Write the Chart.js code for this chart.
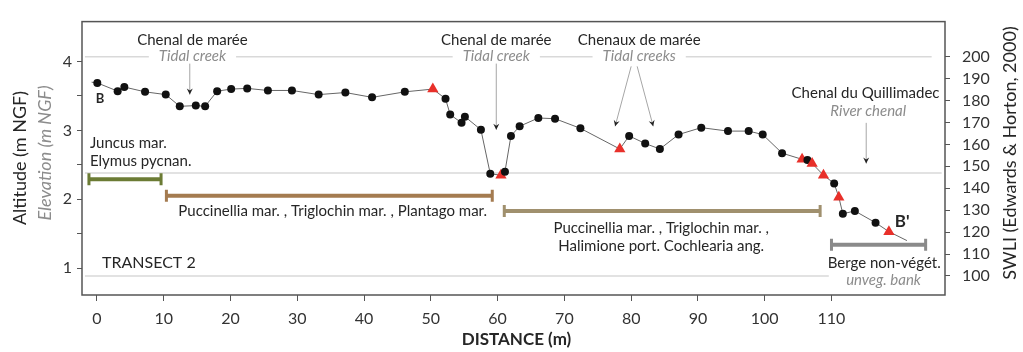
<!DOCTYPE html>
<html lang="fr">
<head>
<meta charset="UTF-8">
<title>Transect 2</title>
<script src="https://cdn.jsdelivr.net/npm/chart.js"></script>
<style>
  html, body { margin: 0; padding: 0; background: #fff; }
</style>
</head>
<body>
<canvas id="grafica" width="1023" height="352"></canvas>
<script>
    // profil du transect 2 : distance (m) et altitude (m NGF)
    const distance = [-0.8, 0.05, 3.1, 4.1, 7.2, 10.3, 12.4, 14.8, 16.2, 18.0, 20.1, 22.5, 25.6, 29.2, 33.2, 37.2, 41.2, 46.1,
        50.3, 52.2, 52.9, 54.6, 55.1, 57.5, 58.9, 60.5, 61.1, 62.0, 63.3, 66.1, 68.6, 72.4,
        78.3, 79.7, 82.1, 84.3, 87.1, 90.5, 94.5, 97.6, 99.7, 102.6,
        105.6, 106.4, 107.1, 108.8, 110.4, 111.1, 111.7, 113.5, 116.6, 118.6, 121.3];
    const altitude = [3.70, 3.69, 3.57, 3.63, 3.56, 3.52, 3.35, 3.36, 3.35, 3.57, 3.60, 3.61, 3.58, 3.58, 3.52, 3.55, 3.48, 3.56,
        3.60, 3.46, 3.23, 3.11, 3.20, 3.01, 2.37, 2.35, 2.40, 2.92, 3.06, 3.18, 3.17, 3.03,
        2.73, 2.92, 2.81, 2.73, 2.94, 3.04, 2.99, 2.99, 2.94, 2.67,
        2.58, 2.57, 2.52, 2.35, 2.23, 2.03, 1.79, 1.83, 1.66, 1.53, 1.40];
    // o = point levé, t = échantillon (triangle rouge), - = pas de marqueur
    const marqueurs = ("-ooooooooooooooooo" + "toooooo" + "toooooo" + "tooooooooo" + "to" + "tto" + "tooo" + "t-").split("");

    const ticksDistance = [0, 10, 20, 30, 40, 50, 60, 70, 80, 90, 100, 110];
    const ticksAltitude = [1, 1.5, 2, 2.5, 3, 3.5, 4];
    const ticksSwli = [100, 110, 120, 130, 140, 150, 160, 170, 180, 190, 200];

    // niveaux repères (SWLI) : lignes grises horizontales
    const niveauxSwli = [200, 147, 100];
    const niveauxDebut = [-1.8, -1.8, -1.8];
    const niveauxFin = [125, 126.5, 109.6];

    // zones de végétation le long du transect
    const vegDebut = [-1.2, 10.4, 61.0, 110.0];
    const vegFin = [9.6, 59.2, 108.3, 124.1];
    const vegAltitude = [2.29, 2.05, 1.83, 1.34];
    const vegCouleurs = ["#6b7b34", "#a47b50", "#a0906e", "#8a8a8a"];

    const texteFonce = "#262626";
    const texteGris = "#8c8c8c";
    const police = "Lato";

    // textes posés dans le graphique (coordonnées en m / m NGF)
    const etiquettes = [
        { t: "Chenal de marée", x: 14.3, y: 4.31, f: "15px", c: texteFonce },
        { t: "Tidal creek", x: 14.3, y: 4.08, f: "italic 15px", c: texteGris, fond: true },
        { t: "Chenal de marée", x: 59.8, y: 4.31, f: "15px", c: texteFonce },
        { t: "Tidal creek", x: 59.8, y: 4.08, f: "italic 15px", c: texteGris, fond: true },
        { t: "Chenaux de marée", x: 81.2, y: 4.31, f: "15px", c: texteFonce },
        { t: "Tidal creeks", x: 81.2, y: 4.08, f: "italic 15px", c: texteGris, fond: true },
        { t: "Chenal du Quillimadec", x: 115.1, y: 3.54, f: "15px", c: texteFonce },
        { t: "River chenal", x: 115.5, y: 3.28, f: "italic 15px", c: texteGris },
        { t: "B", x: 0.45, y: 3.46, f: "bold 13px", c: texteFonce },
        { t: "B'", x: 120.6, y: 1.68, f: "bold 17px", c: texteFonce },
        { t: "Juncus mar.", x: -1.05, y: 2.82, f: "15px", c: texteFonce, a: "left" },
        { t: "Elymus pycnan.", x: -1.05, y: 2.55, f: "15px", c: texteFonce, a: "left" },
        { t: "Puccinellia mar. , Triglochin mar. , Plantago mar.", x: 35.3, y: 1.83, f: "15px", c: texteFonce },
        { t: "Puccinellia mar. , Triglochin mar. ,", x: 84.5, y: 1.58, f: "15px", c: texteFonce },
        { t: "Halimione port. Cochlearia ang.", x: 84.5, y: 1.32, f: "15px", c: texteFonce },
        { t: "TRANSECT 2", x: 0.75, y: 1.07, f: "16px", c: texteFonce, a: "left" },
        { t: "Berge non-végét.", x: 117.9, y: 1.07, f: "15px", c: texteFonce },
        { t: "unveg. bank", x: 117.8, y: 0.83, f: "italic 15px", c: texteGris }
    ];
    // flèches : [x départ, y départ, x arrivée, y arrivée]
    const fleches = [
        [13.9, 3.97, 13.9, 3.52],
        [59.8, 3.97, 59.8, 3.01],
        [80.0, 3.93, 77.6, 3.06],
        [80.9, 3.93, 83.3, 3.06],
        [115.2, 3.11, 115.2, 2.52]
    ];

    Chart.defaults.font.family = police;

    const profil = distance.map((d, i) => ({ x: d, y: altitude[i] }));

    const datasets = [{
        data: profil,
        yAxisID: "y",
        borderColor: "#666",
        borderWidth: 1,
        pointStyle: marqueurs.map(m => m === "t" ? "triangle" : "circle"),
        pointRadius: marqueurs.map(m => m === "t" ? 6.5 : (m === "o" ? 4 : 0)),
        pointBackgroundColor: marqueurs.map(m => m === "t" ? "#e8302a" : "#111"),
        pointBorderWidth: 0,
        order: 0
    }];

    vegDebut.forEach((d, i) => {
        datasets.push({
            data: [{ x: d, y: vegAltitude[i] }, { x: vegFin[i], y: vegAltitude[i] }],
            yAxisID: "y",
            borderColor: vegCouleurs[i],
            borderWidth: 4,
            pointStyle: "line",
            rotation: 90,
            pointRadius: 6,
            pointBorderWidth: 3,
            pointBorderColor: vegCouleurs[i],
            order: 2
        });
    });

    niveauxSwli.forEach((n, i) => {
        datasets.push({
            data: [{ x: niveauxDebut[i], y: n }, { x: niveauxFin[i], y: n }],
            yAxisID: "y2",
            borderColor: "#d9d9d9",
            borderWidth: 1.5,
            pointRadius: 0,
            order: 3
        });
    });

    const annotations = {
        id: "annotations",
        afterDatasetsDraw(chart) {
            const ctx = chart.ctx;
            const sx = chart.scales.x, sy = chart.scales.y;
            const a = chart.chartArea;
            ctx.save();

            // flèches
            fleches.forEach(([x1, y1, x2, y2]) => {
                const p1x = sx.getPixelForValue(x1), p1y = sy.getPixelForValue(y1);
                const p2x = sx.getPixelForValue(x2), p2y = sy.getPixelForValue(y2);
                ctx.strokeStyle = "#a6a6a6";
                ctx.lineWidth = 1;
                ctx.beginPath();
                ctx.moveTo(p1x, p1y);
                ctx.lineTo(p2x, p2y);
                ctx.stroke();
                const ang = Math.atan2(p2y - p1y, p2x - p1x);
                ctx.fillStyle = "#222";
                ctx.beginPath();
                ctx.moveTo(p2x, p2y);
                ctx.lineTo(p2x - 6 * Math.cos(ang) + 3 * Math.sin(ang), p2y - 6 * Math.sin(ang) - 3 * Math.cos(ang));
                ctx.lineTo(p2x - 4 * Math.cos(ang), p2y - 4 * Math.sin(ang));
                ctx.lineTo(p2x - 6 * Math.cos(ang) - 3 * Math.sin(ang), p2y - 6 * Math.sin(ang) + 3 * Math.cos(ang));
                ctx.closePath();
                ctx.fill();
            });

            // textes
            etiquettes.forEach(e => {
                const px = sx.getPixelForValue(e.x), py = sy.getPixelForValue(e.y);
                ctx.font = e.f + " " + police;
                ctx.textAlign = e.a || "center";
                ctx.textBaseline = "middle";
                if (e.fond) {
                    const w = ctx.measureText(e.t).width;
                    const x0 = ctx.textAlign === "center" ? px - w / 2 : px;
                    ctx.fillStyle = "#fff";
                    ctx.fillRect(x0 - 10, py - 6, w + 20, 12);
                }
                ctx.fillStyle = e.c;
                ctx.fillText(e.t, px, py);
            });

            // cadre
            ctx.strokeStyle = "#555";
            ctx.lineWidth = 1.5;
            ctx.strokeRect(a.left, a.top, a.right - a.left, a.bottom - a.top);

            // titres des axes
            ctx.textAlign = "center";
            ctx.textBaseline = "middle";
            ctx.fillStyle = texteFonce;
            ctx.font = "bold 17px " + police;
            ctx.fillText("DISTANCE (m)", (a.left + a.right) / 2 + 3, a.bottom + 45);

            ctx.save();
            ctx.translate(a.left - 62, 158);
            ctx.rotate(-Math.PI / 2);
            ctx.font = "18px " + police;
            ctx.fillStyle = texteFonce;
            ctx.fillText("Altitude (m NGF)", 0, 0);
            ctx.restore();

            ctx.save();
            ctx.translate(a.left - 37, 153);
            ctx.rotate(-Math.PI / 2);
            ctx.font = "italic 18px " + police;
            ctx.fillStyle = texteGris;
            ctx.fillText("Elevation (m NGF)", 0, 0);
            ctx.restore();

            ctx.save();
            ctx.translate(a.right + 65, 153);
            ctx.rotate(-Math.PI / 2);
            ctx.font = "18px " + police;
            ctx.fillStyle = texteFonce;
            ctx.fillText("SWLI (Edwards & Horton, 2000)", 0, 0);
            ctx.restore();

            ctx.restore();
        }
    };

    const policeTicks = { family: police, size: 16 };

    new Chart(document.querySelector("#grafica"), {
        type: "line",
        data: { datasets: datasets },
        options: {
            responsive: false,
            animation: false,
            layout: { padding: { top: 8, left: 0, right: 0, bottom: 0 } },
            plugins: { legend: { display: false }, tooltip: { enabled: false } },
            scales: {
                x: {
                    type: "linear",
                    min: -2.24,
                    max: 127,
                    afterBuildTicks: s => { s.ticks = ticksDistance.map(v => ({ value: v })); },
                    afterFit: s => { s.height = 57; },
                    ticks: { font: policeTicks, color: "#333", padding: 8, maxRotation: 0 },
                    grid: { drawOnChartArea: false, tickLength: 6, color: "#555" },
                    border: { display: false }
                },
                y: {
                    position: "left",
                    min: 0.61,
                    max: 4.58,
                    afterBuildTicks: s => { s.ticks = ticksAltitude.map(v => ({ value: v })); },
                    afterFit: s => { s.width = 82; },
                    ticks: { font: policeTicks, color: "#333", padding: 5, callback: v => Number.isInteger(v) ? v : "" },
                    grid: { drawOnChartArea: false, tickLength: 5, color: "#555" },
                    border: { display: false }
                },
                y2: {
                    position: "right",
                    min: 91.3,
                    max: 216,
                    afterBuildTicks: s => { s.ticks = ticksSwli.map(v => ({ value: v })); },
                    afterFit: s => { s.width = 78; },
                    ticks: { font: policeTicks, color: "#333", padding: 12 },
                    grid: { drawOnChartArea: false, tickLength: 5, color: "#555" },
                    border: { display: false }
                }
            }
        },
        plugins: [annotations]
    });
</script>
</body>
</html>
